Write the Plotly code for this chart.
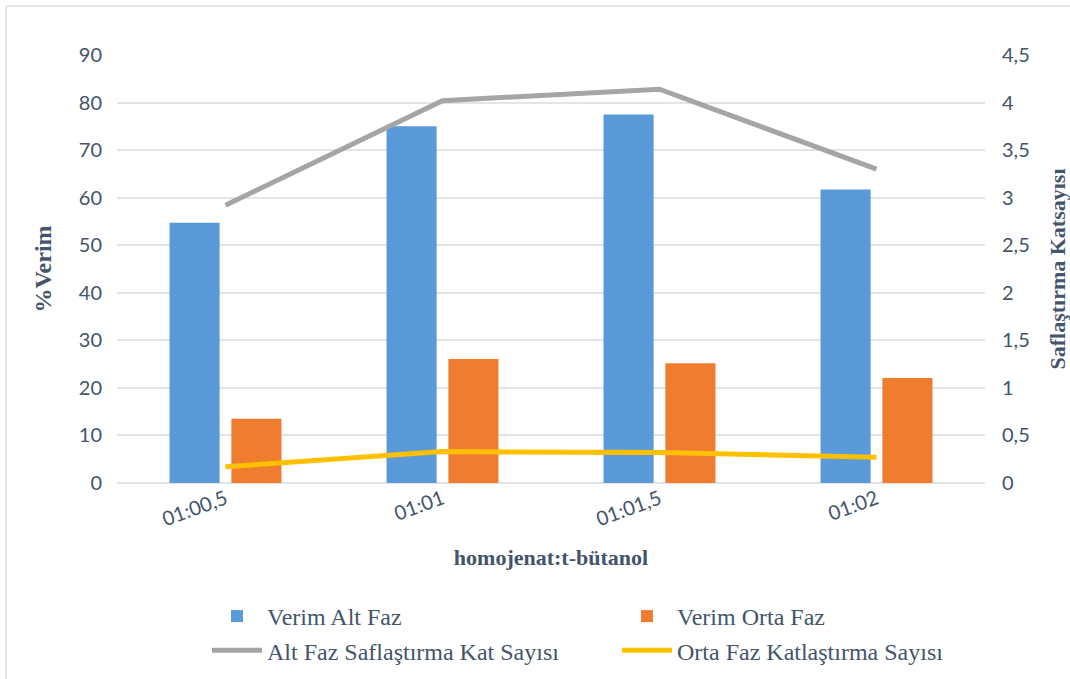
import plotly.graph_objects as go

# Oranlar (homojenat:t-bütanol)
categories = ["01:00,5", "01:01", "01:01,5", "01:02"]

# % verim değerleri (sol eksen)
verim_alt_faz = [54.7, 75.0, 77.5, 61.7]
verim_orta_faz = [13.5, 26.1, 25.2, 22.1]

# Saflaştırma katsayıları (sağ eksen)
alt_faz_saflastirma = [2.92, 4.02, 4.14, 3.30]
orta_faz_katlastirma = [0.17, 0.33, 0.32, 0.27]

text_color = "#44546A"
grid_color = "#E1E5EA"
tick_font = dict(family="Lato, Open Sans, sans-serif", size=20, color=text_color)
serif = "Liberation Serif, Times New Roman, serif"

fig = go.Figure()

fig.add_trace(go.Bar(
    x=categories, y=verim_alt_faz, name="Verim Alt Faz",
    marker=dict(color="#5A9AD8", line=dict(width=0)),
))
fig.add_trace(go.Bar(
    x=categories, y=verim_orta_faz, name="Verim Orta Faz",
    marker=dict(color="#F07C30", line=dict(width=0)),
))
fig.add_trace(go.Scatter(
    x=categories, y=alt_faz_saflastirma, name="Alt Faz Saflaştırma Kat Sayısı",
    mode="lines", yaxis="y2",
    line=dict(color="#A5A5A5", width=5),
))
fig.add_trace(go.Scatter(
    x=categories, y=orta_faz_katlastirma, name="Orta Faz Katlaştırma Sayısı",
    mode="lines", yaxis="y2",
    line=dict(color="#FFC000", width=5),
))

# Left and top frame lines of the chart area
px_l, px_r, px_t, px_b = 117, 985, 55, 483
w, h = px_r - px_l, px_b - px_t

def paper_x(p):
    return (p - px_l) / w

def paper_y(p):
    return (px_b - p) / h

fig.update_layout(
    width=1070, height=679,
    margin=dict(l=px_l, r=1070 - px_r, t=px_t, b=679 - px_b, autoexpand=False),
    paper_bgcolor="white", plot_bgcolor="white",
    separators=",.",
    barmode="group", bargap=0.43, bargroupgap=0.19,
    showlegend=True,
    legend=dict(
        orientation="h", x=paper_x(207), y=paper_y(594), xanchor="left", yanchor="top",
        entrywidth=345, entrywidthmode="pixels",
        font=dict(family=serif, size=24, color=text_color),
        itemwidth=50, tracegroupgap=0, traceorder="normal",
        bgcolor="rgba(0,0,0,0)",
    ),
    xaxis=dict(
        type="category", tickangle=-20, tickfont=tick_font, automargin=False,
        showgrid=False, showline=False, ticks="",
        title=dict(text="<b>homojenat:t-bütanol</b>",
                   font=dict(family=serif, size=22, color=text_color), standoff=20),
    ),
    yaxis=dict(
        range=[0, 90], dtick=10, tickfont=tick_font, automargin=False,
        showgrid=True, gridcolor=grid_color, gridwidth=2,
        zeroline=True, zerolinecolor=grid_color, zerolinewidth=2,
        showline=False, ticks="", ticklabelstandoff=14,
        title=dict(text="<b>%Verim</b>",
                   font=dict(family=serif, size=24, color=text_color), standoff=20),
    ),
    yaxis2=dict(
        overlaying="y", side="right", range=[0, 4.5], dtick=0.5, automargin=False,
        tickfont=tick_font, showgrid=False, zeroline=False, showline=False,
        ticks="", ticklabelstandoff=16,
        title=dict(text="<b>Saflaştırma Katsayısı</b>",
                   font=dict(family=serif, size=22, color=text_color), standoff=22),
    ),
    shapes=[
        dict(type="line", xref="paper", yref="paper",
             x0=paper_x(6), x1=paper_x(1075), y0=paper_y(6), y1=paper_y(6),
             line=dict(color=grid_color, width=2)),
        dict(type="line", xref="paper", yref="paper",
             x0=paper_x(6), x1=paper_x(6), y0=paper_y(6), y1=paper_y(685),
             line=dict(color=grid_color, width=2)),
    ],
)

fig.write_html("out.html")
